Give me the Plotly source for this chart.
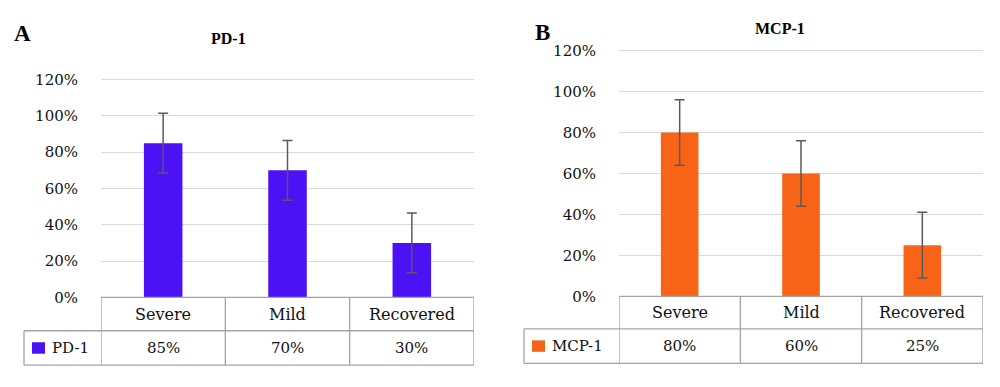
import plotly.graph_objects as go

# ---- data ----
categories = ["Severe", "Mild", "Recovered"]
pd1_values = [85, 70, 30]
pd1_errors = [16.5, 16.5, 16.5]
mcp1_values = [80, 60, 25]
mcp1_errors = [16, 16, 16]
y_ticks = [0, 20, 40, 60, 80, 100, 120]

# page is 1000x387; the default 8px body margin is left in place, so the
# figure is made 16px smaller and every page-pixel position is offset by 8
PAGE_W, PAGE_H, OFF = 1000, 387, 8
W, H = PAGE_W - 2 * OFF, PAGE_H - 2 * OFF
FONT = "DejaVu Serif"
BFONT = "Liberation Serif"
PURPLE = "#4B12F6"
ORANGE = "#F86417"
LINE = "#a3a3a3"
GRID = "#d9d9d9"
TXT = "#111111"


def px(x):
    return (x - OFF) / W


def py(y):
    return 1 - (y - OFF) / H


fig = go.Figure()

panels = [
    dict(name="PD-1", vals=pd1_values, errs=pd1_errors, color=PURPLE,
         xa="x", ya="y", x0=101, x1=474, y0=303, s=1.895,
         rdiv=338, rbot=374, leg_left=24, sq=(32, 45, 350, 362), ltext=50,
         title_xy=(228, 33), letter="A", letter_xy=(22, 27)),
    dict(name="MCP-1", vals=mcp1_values, errs=mcp1_errors, color=ORANGE,
         xa="x2", ya="y2", x0=619, x1=983, y0=302, s=2.14,
         rdiv=336, rbot=372, leg_left=524, sq=(532, 545, 348, 360), ltext=550,
         title_xy=(780, 22), letter="B", letter_xy=(542, 26)),
]

shapes = []
annotations = []
layout_axes = {}

for i, p in enumerate(panels):
    fig.add_trace(go.Bar(
        x=categories, y=p["vals"], name=p["name"],
        marker=dict(color=p["color"], line=dict(width=0)),
        width=0.31,
        error_y=dict(type="data", array=p["errs"], visible=True,
                     color="#5a5a5a", thickness=1.5, width=5),
        xaxis=p["xa"], yaxis=p["ya"], showlegend=False,
    ))
    ymax = 121
    top_px = p["y0"] - ymax * p["s"]
    xkey = "xaxis" if i == 0 else "xaxis2"
    ykey = "yaxis" if i == 0 else "yaxis2"
    layout_axes[xkey] = dict(domain=[px(p["x0"]), px(p["x1"])], showticklabels=False,
                             showgrid=False, zeroline=False, showline=False,
                             range=[-0.5, 2.5], fixedrange=True,
                             anchor="y" if i == 0 else "y2")
    layout_axes[ykey] = dict(domain=[py(p["y0"]), py(top_px)], range=[0, ymax],
                             tickvals=y_ticks, ticktext=[f"{t}%" for t in y_ticks],
                             showgrid=True, gridcolor=GRID, gridwidth=1.3,
                             zeroline=False, showline=False,
                             ticklabelstandoff=22,
                             tickfont=dict(family=FONT, size=15, color=TXT),
                             anchor="x" if i == 0 else "x2")
    xref = p["xa"]
    # table horizontal lines
    shapes.append(dict(type="line", xref="paper", yref="paper",
                       x0=px(p["x0"]), x1=px(p["x1"]), y0=py(p["y0"]), y1=py(p["y0"]),
                       line=dict(color=LINE, width=1.3)))
    for yy in (p["rdiv"], p["rbot"]):
        shapes.append(dict(type="line", xref="paper", yref="paper",
                           x0=px(p["leg_left"]), x1=px(p["x1"]), y0=py(yy), y1=py(yy),
                           line=dict(color=LINE, width=1.3)))
    # vertical lines
    shapes.append(dict(type="line", xref="paper", yref="paper",
                       x0=px(p["leg_left"]), x1=px(p["leg_left"]),
                       y0=py(p["rdiv"]), y1=py(p["rbot"]),
                       line=dict(color=LINE, width=1.3)))
    for b in [-0.5, 0.5, 1.5, 2.5]:
        shapes.append(dict(type="line", xref=xref, yref="paper", x0=b, x1=b,
                           y0=py(p["y0"]), y1=py(p["rbot"]),
                           line=dict(color=LINE, width=1.3)))
    # legend square
    sx0, sx1, sy0, sy1 = p["sq"]
    shapes.append(dict(type="rect", xref="paper", yref="paper",
                       x0=px(sx0), x1=px(sx1), y0=py(sy1), y1=py(sy0),
                       fillcolor=p["color"], line=dict(width=0)))
    annotations.append(dict(text=p["name"], xref="paper", yref="paper",
                            x=px(p["ltext"]), y=py((p["rdiv"] + p["rbot"]) / 2),
                            xanchor="left", yanchor="middle", showarrow=False,
                            font=dict(family=FONT, size=15, color=TXT)))
    # table text
    r1 = (p["y0"] + p["rdiv"]) / 2
    r2 = (p["rdiv"] + p["rbot"]) / 2
    for c, v in zip(categories, p["vals"]):
        annotations.append(dict(text=c, xref=xref, yref="paper", x=c, y=py(r1),
                                xanchor="center", yanchor="middle", showarrow=False,
                                font=dict(family=FONT, size=16, color=TXT)))
        annotations.append(dict(text=f"{v}%", xref=xref, yref="paper", x=c, y=py(r2),
                                xanchor="center", yanchor="middle", showarrow=False,
                                font=dict(family=FONT, size=15, color=TXT)))
    # title and panel letter
    annotations.append(dict(text=f"<b>{p['name']}</b>", xref="paper", yref="paper",
                            x=px(p["title_xy"][0]), y=py(p["title_xy"][1]),
                            xanchor="center", yanchor="middle", showarrow=False,
                            font=dict(family=BFONT, size=16, color="#000")))
    annotations.append(dict(text=f"<b>{p['letter']}</b>", xref="paper", yref="paper",
                            x=px(p["letter_xy"][0]), y=py(p["letter_xy"][1]),
                            xanchor="center", yanchor="middle", showarrow=False,
                            font=dict(family=BFONT, size=23, color="#000")))

fig.update_layout(
    width=W, height=H, margin=dict(l=0, r=0, t=0, b=0), autosize=False,
    paper_bgcolor="white", plot_bgcolor="white",
    shapes=shapes, annotations=annotations, bargap=0.69,
    **layout_axes,
)

fig.write_html("out.html", config={"displayModeBar": False})
